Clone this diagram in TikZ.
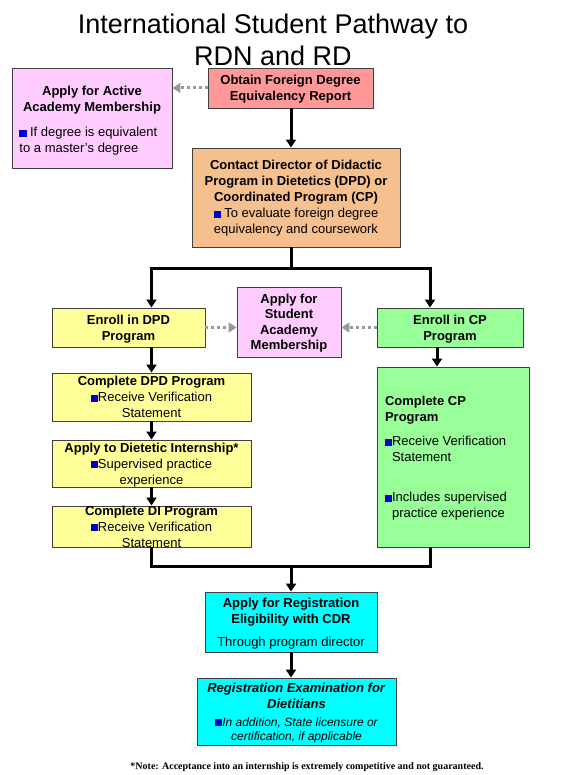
\documentclass[tikz,border=0pt]{standalone}
\usepackage{fontspec}
\setmainfont{Liberation Sans}
\newfontfamily\notefont{Liberation Serif}
\usetikzlibrary{arrows.meta}
\definecolor{cpink}{HTML}{FFCCFF}
\definecolor{cred}{HTML}{FF9999}
\definecolor{corange}{HTML}{F5C08D}
\definecolor{cyellow}{HTML}{FFFF99}
\definecolor{cgreen}{HTML}{99FF99}
\definecolor{ccyan}{HTML}{00FFFF}
\definecolor{bulblue}{HTML}{0000CC}
\newcommand{\bul}{\textcolor{bulblue}{\rule{7pt}{7pt}}}
\newcommand{\bulsp}{\hspace*{7pt}}
\begin{document}
\begin{tikzpicture}[x=1pt,y=-1pt,
 box/.style={draw=black!75, line width=0.9pt, inner sep=0pt, align=center, font=\fontsize{13}{16}\selectfont},
 tht/.style={text height=#1, text depth=0pt},
 arr/.style={line width=3pt, -{Triangle[length=8pt,width=10pt]}},
 conn/.style={line width=3pt},
 dots/.style={draw=black!40, line width=3pt, dash pattern=on 3pt off 3pt, -{Triangle[length=8pt,width=10pt]}}]
\useasboundingbox (0,0) rectangle (560,775);

% title
\node[anchor=base, font=\fontsize{27}{32}\selectfont] (t1) at (273,34) {International Student Pathway to};
\node[anchor=base, font=\fontsize{27}{32}\selectfont] (t2) at (273,66) {RDN and RD};

% boxes
\node[box, tht=70pt, fill=cpink, minimum width=160pt, minimum height=100pt, align=left] (act) at (92,118)
 {\makebox[145pt]{\textbf{Apply for Active}}\\\makebox[145pt]{\textbf{Academy Membership}}\\[9pt]
  \bul\ If degree is equivalent\\to a master's degree};
\node[box, tht=25pt, fill=cred, minimum width=165pt, minimum height=40pt] (obt) at (290.5,88)
 {\textbf{Obtain Foreign Degree}\\\textbf{Equivalency Report}};
\node[box, tht=73pt, fill=corange, minimum width=208pt, minimum height=99pt] (con) at (296,197.5)
 {\textbf{Contact Director of Didactic}\\\textbf{Program in Dietetics (DPD) or}\\\textbf{Coordinated Program (CP)}\\\bul\ To evaluate foreign degree\\equivalency and coursework};
\node[box, tht=25pt, fill=cyellow, minimum width=153pt, minimum height=39pt] (dpd) at (128.5,327.5)
 {\textbf{Enroll in DPD}\\\textbf{Program}};
\node[box, tht=55.5pt, fill=cpink, minimum width=104pt, minimum height=70pt] (stu) at (289,322)
 {\textbf{Apply for}\\[-0.5pt]\textbf{Student}\\[-0.5pt]\textbf{Academy}\\[-0.5pt]\textbf{Membership}};
\node[box, tht=25pt, fill=cgreen, minimum width=146pt, minimum height=39pt] (cp) at (450,327.5)
 {\textbf{Enroll in CP}\\\textbf{Program}};
\node[box, tht=41pt, fill=cyellow, minimum width=199pt, minimum height=48pt] (cdpd) at (151.5,397)
 {\textbf{Complete DPD Program}\\\bul Receive Verification\\Statement};
\node[box, tht=41pt, fill=cyellow, minimum width=199pt, minimum height=47pt] (di) at (151.5,463.5)
 {\textbf{Apply to Dietetic Internship*}\\\bul Supervised practice\\experience};
\node[box, tht=41pt, fill=cyellow, minimum width=199pt, minimum height=41pt] (cdi) at (151.5,526.5)
 {\textbf{Complete DI Program}\\\bul Receive Verification\\Statement};
\node[box, tht=121pt, fill=cgreen, minimum width=152pt, minimum height=180pt, align=left] (ccp) at (453,457)
 {\textbf{Complete CP}\\\textbf{Program}\\[8pt]\bul Receive Verification\\\bulsp Statement\\[24pt]\bul Includes supervised\rule{14pt}{0pt}\\\bulsp practice experience};
\node[box, tht=48pt, fill=ccyan, minimum width=172pt, minimum height=60pt] (reg) at (291,622)
 {\textbf{Apply for Registration}\\\textbf{Eligibility with CDR}\\[7pt]Through program director};
\node[box, tht=57pt, fill=ccyan, minimum width=199pt, minimum height=67pt] (exam) at (296.5,711.5)
 {\textbf{\textit{Registration Examination for}}\\\textbf{\textit{Dietitians}}\\[2pt]
  {\fontsize{12}{14}\selectfont\itshape\bul In addition, State licensure or}\\[-2pt]
  {\fontsize{12}{14}\selectfont\itshape certification, if applicable}};

% note
\node[font=\notefont\bfseries\fontsize{10}{12}\selectfont] (note) at (307,767)
 {*Note: Acceptance into an internship is extremely competitive and not guaranteed.};

% junction coordinates
\coordinate (bj) at (291,268);
\coordinate (mj) at (291,566);
\coordinate (cpx) at (430,0);
\coordinate (cpy) at (437,0);

% connectors
\draw[arr] (obt.south -| bj) -- (con.north -| bj);
\draw[arr] (con.south -| bj) |- (cdpd.north |- bj) -- (cdpd.north |- dpd.north);
\draw[arr] (bj) -| (cp.north -| cpx);
\draw[arr] (cdpd.north |- dpd.south) -- (cdpd.north);
\draw[arr] (cdpd.south) -- (di.north);
\draw[arr] (di.south) -- (cdi.north);
\draw[arr] (cp.south -| cpy) -- (ccp.north -| cpy);
\draw[conn] (cdi.south) -- (cdi.south |- mj) -- (mj -| cpx) -- (ccp.south -| cpx);
\draw[arr] (mj) -- (reg.north -| mj);
\draw[arr] (reg.south -| mj) -- (exam.north -| mj);

% dotted connectors
\draw[dots] (obt.west) -- (obt.west -| act.east);
\draw[dots] (dpd.east) -- (stu.west |- dpd.east);
\draw[dots] (cp.west) -- (stu.east |- cp.west);
\end{tikzpicture}
\end{document}
